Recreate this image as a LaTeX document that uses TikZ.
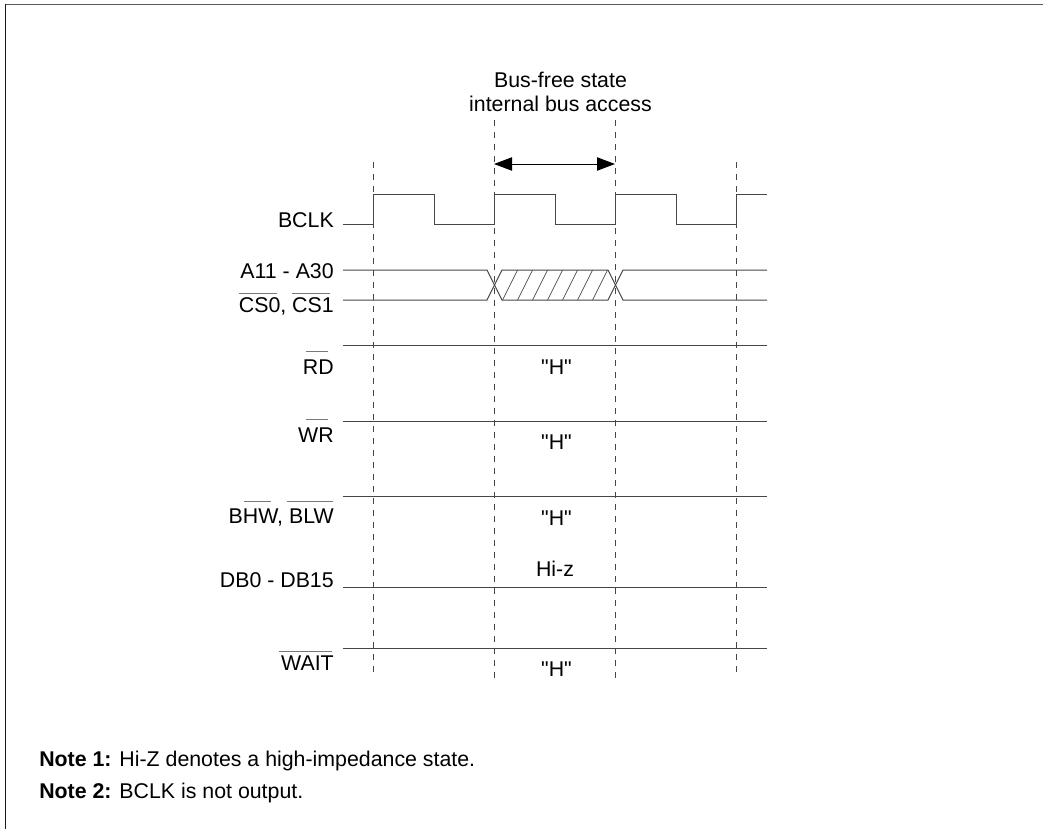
\documentclass[tikz,border=0pt]{standalone}
\usepackage{fontspec}
\setmainfont{Liberation Sans}[Ligatures=TeXOff]
\usepackage{tikz}
\usetikzlibrary{arrows.meta, positioning, calc}
\definecolor{wavegray}{RGB}{70,70,70}
\definecolor{bargray}{RGB}{120,120,120}

\begin{document}
\begin{tikzpicture}[
    x=0.75pt, y=-0.75pt,
    wave/.style={line width=0.75pt, wavegray},
    guide/.style={line width=0.6pt, wavegray, dash pattern=on 4.5pt off 4.5pt},
    sig/.style={anchor=base east, inner sep=0pt, font=\fontsize{16}{19}\selectfont},
    txt/.style={anchor=base, inner sep=0pt, font=\fontsize{16}{19}\selectfont},
    note/.style={anchor=base west, inner sep=0pt, font=\fontsize{16}{19}\selectfont},
    bar/.style={line width=0.75pt, bargray},
]
    \useasboundingbox (0,0) rectangle (1043,829);

    % frame, open at the bottom
    \draw[line width=1pt, black!65] (5,4.2) -- (1043,4.2);
    \draw[line width=1pt, black!90] (5.8,3.5) -- (5.8,829);

    % guides
    \foreach \gx/\gname/\gtop/\gbot in {373/ga/162/673, 494/gb/120/678, 615/gc/120/678, 736/gd/162/673}{
        \coordinate (\gname top) at (\gx,\gtop);
        \coordinate (\gname bot) at (\gx,\gbot);
        \draw[guide] (\gname top) -- (\gname bot);
    }

    % access span
    \node[txt] (busfree) at (560.5,87) {Bus-free state};
    \node[txt] (busint) at (560.5,111) {internal bus access};
    \coordinate (spanl) at (494,164);
    \coordinate (spanr) at (615,164);
    \draw[wave, black, {Triangle[length=13.5pt,width=10pt]}-{Triangle[length=13.5pt,width=10pt]}] (spanl) -- (spanr);

    % signal names
    \node[sig] (bclk) at (334,227) {BCLK};
    \node[sig] (addr) at (334,278) {A11 - A30};
    \node[sig] (cs) at (334,312.5) {CS0, CS1};
    \node[sig] (rd) at (334,374) {RD};
    \node[sig] (wr) at (334,442) {WR};
    \node[sig] (bhw) at (334,523) {BHW, BLW};
    \node[sig] (db) at (334,587) {DB0 - DB15};
    \node[sig] (wait) at (334,670.5) {WAIT};

    % bars over the active-low names
    \draw[bar] (239,293) -- (277,293);
    \draw[bar] (292,293) -- (330,293);
    \draw[bar] (306,351) -- (328,351);
    \draw[bar] (306,419) -- (328,419);
    \draw[bar] (244,501) -- (271,501);
    \draw[bar] (287,501) -- (333,501);
    \draw[bar] (279,651) -- (332,651);

    % clock
    \draw[wave] (343,224.5) -- (373,224.5) -- (373,194) -- (434,194) -- (434,224.5)
        -- (494,224.5) -- (494,194) -- (555,194) -- (555,224.5) -- (615,224.5) -- (615,194)
        -- (676,194) -- (676,224.5) -- (736,224.5) -- (736,194) -- (767,194);

    % address and chip select
    \draw[wave] (343,270) -- (487,270) -- (502,300) -- (608,300) -- (623,270)
        -- (767,270);
    \draw[wave] (343,300) -- (487,300) -- (502,270) -- (608,270) -- (623,300)
        -- (767,300);
    \foreach \hx in {517.5,532.5,547.5,562.5,577.5,592.5,607.5}{
        \draw[line width=0.5pt, wavegray] (\hx-15,300) -- (\hx,270);
    }

    % flat lines
    \foreach \ly/\lname in {345/rdl, 421/wrl, 496/bhwl, 587/dbl, 648/waitl}{
        \coordinate (\lname a) at (343,\ly);
        \coordinate (\lname b) at (767,\ly);
        \draw[wave] (\lname a) -- (\lname b);
    }

    \node[txt] (hrd) at (556.5,374) {"H"};
    \node[txt] (hwr) at (556.5,449.5) {"H"};
    \node[txt] (hbhw) at (556.5,525.5) {"H"};
    \node[txt] (hiz) at (555,576) {Hi-z};
    \node[txt] (hwait) at (556.5,676) {"H"};

    % notes
    \node[note] (noteone) at (39,766) {\textbf{Note 1:} Hi-Z denotes a high-impedance state.};
    \node[note] (notetwo) at (39,798) {\textbf{Note 2:} BCLK is not output.};
\end{tikzpicture}
\end{document}
